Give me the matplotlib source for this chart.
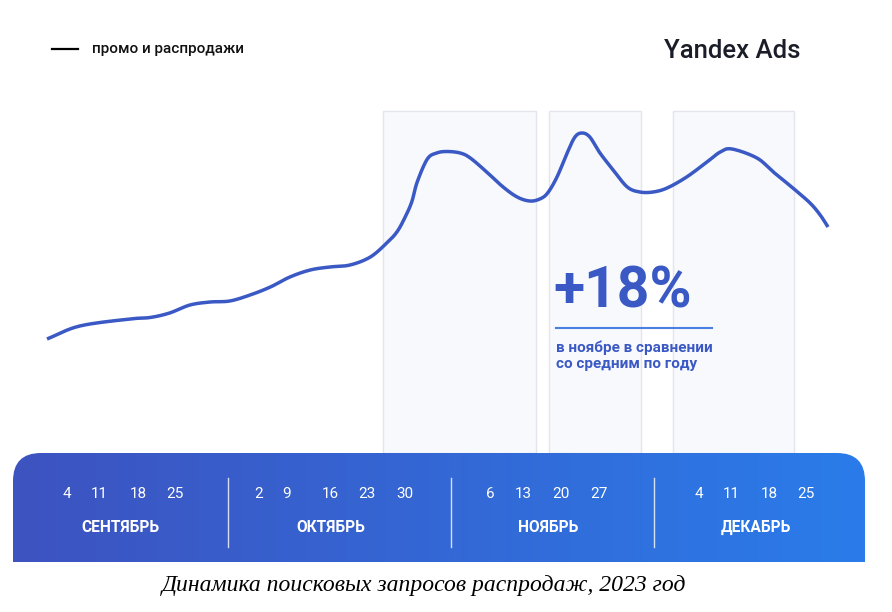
import numpy as np
import matplotlib
matplotlib.use('Agg')
import matplotlib.pyplot as plt
from matplotlib.patches import FancyBboxPatch, Rectangle
from matplotlib.transforms import blended_transform_factory

# search interest, sampled along the period (0 = start of Sep, 100 = end of Dec)
pos = [0, 4.2, 10.6, 13.2, 15.7, 18.3, 20.9, 23.4, 26.0, 28.6, 31.1, 33.7,
       36.2, 38.8, 41.4, 43.5, 44.8, 45.8, 46.7, 47.4, 48.7, 49.9, 51.2,
       52.9, 54.2, 56.3, 58.4, 60.2, 61.8, 63.1, 64.1, 65.3, 66.6, 67.6, 68.5,
       69.5, 70.8, 72.5, 74.3, 75.9, 77.6, 79.4, 81.9, 84.5, 86.2, 87.7,
       90.9, 93.0, 95.5, 97.7, 99.0, 100]
vals = [60.5, 67, 70.5, 71.25, 73.5, 77.5, 79, 79.5, 82.5, 86.5, 91.5, 95,
        96.5, 97.5, 101.5, 108.5, 114, 121, 129, 139, 150.5, 153.5, 154.25,
        153.5, 151, 144, 136.5, 131.5, 129.5, 130.5, 133.5, 141.5, 153.5, 161.5, 163.5,
        161.5, 153.5, 145, 136.5, 134, 134, 136, 141.5, 149, 154, 155.5,
        151, 144, 136, 128.5, 122.5, 116.5]

# promo periods (same scale as pos)
promo_start = [43.0, 64.3, 80.2]
promo_end = [62.6, 76.1, 95.6]

months = ['СЕНТЯБРЬ', 'ОКТЯБРЬ', 'НОЯБРЬ', 'ДЕКАБРЬ']
days = [['4', '11', '18', '25'],
        ['2', '9', '16', '23', '30'],
        ['6', '13', '20', '27'],
        ['4', '11', '18', '25']]

# layout of the date strip (pixels)
day_x = [[67, 99, 138, 175],
         [259, 287, 330, 367, 405],
         [490, 523, 561, 599],
         [699, 731, 769, 806]]
month_x = [120, 331, 548, 756]
sep_x = [228, 451, 654]

BLUE = '#3a59c4'
FONT = ['Roboto', 'DejaVu Sans']


def smooth(x, y, steps=16):
    # catmull-rom curve through the points, only for drawing
    x = np.asarray(x, float)
    y = np.asarray(y, float)
    px = np.concatenate([[2 * x[0] - x[1]], x, [2 * x[-1] - x[-2]]])
    py = np.concatenate([[2 * y[0] - y[1]], y, [2 * y[-1] - y[-2]]])
    t = np.linspace(0, 1, steps, endpoint=False)[:, None]
    outx, outy = [], []
    for i in range(1, len(px) - 2):
        for p, out in ((px, outx), (py, outy)):
            p0, p1, p2, p3 = p[i - 1], p[i], p[i + 1], p[i + 2]
            c = 0.5 * ((2 * p1) + (-p0 + p2) * t + (2 * p0 - 5 * p1 + 4 * p2 - p3) * t ** 2
                       + (-p0 + 3 * p1 - 3 * p2 + p3) * t ** 3)
            out.extend(c.ravel())
    outx.append(x[-1])
    outy.append(y[-1])
    return outx, outy


fig = plt.figure(figsize=(8.92, 6.12), dpi=100)
ax = fig.add_axes([0, 0, 1, 1])
ax.set_xlim(0, 892)
ax.set_ylim(612, 0)
ax.axis('off')

# line axes
W, H = 892, 612
x0, x1 = 47, 828
ytop, ybot = 100, 360
lax = fig.add_axes([x0 / W, (H - ybot) / H, (x1 - x0) / W, (ybot - ytop) / H])
lax.set_xlim(0, 100)
lax.set_ylim(50, 180)
lax.axis('off')
lax.patch.set_alpha(0)
lax.set_zorder(5)

sx_, sy_ = smooth(pos, vals)
lax.plot(sx_, sy_, color=BLUE, lw=2.5, clip_on=False,
         solid_capstyle='butt', solid_joinstyle='round')

# promo shading
tr = blended_transform_factory(lax.transData, ax.transData)
for s, e in zip(promo_start, promo_end):
    ax.add_patch(Rectangle((s, 111), e - s, 453 - 111, transform=tr,
                           facecolor='#f8f9fc', edgecolor='#e3e5ec', lw=1, zorder=1))

# gradient strip with rounded top corners
band = FancyBboxPatch((13, 453), 852, 140, boxstyle='round,pad=0,rounding_size=28',
                      facecolor='none', edgecolor='none', zorder=2)
ax.add_patch(band)
c0 = np.array([61, 83, 192]) / 255
c1 = np.array([42, 124, 234]) / 255
t = np.linspace(0, 1, 256)[None, :, None]
grad = c0 + (c1 - c0) * t
img = ax.imshow(grad, extent=[13, 865, 600, 453], aspect='auto', zorder=2)
img.set_clip_path(band)
ax.add_patch(Rectangle((0, 562), 892, 50, facecolor='white', edgecolor='none', zorder=3))
ax.set_xlim(0, 892)
ax.set_ylim(612, 0)

for sx in sep_x:
    ax.plot([sx, sx], [478, 547], color='white', lw=1, alpha=0.8, zorder=4)

for mi, m in enumerate(months):
    for d, dx in zip(days[mi], day_x[mi]):
        ax.text(dx, 494, d, color='white', fontsize=11, ha='center', va='center',
                family=FONT, zorder=4)
    ax.text(month_x[mi], 527, m, color='white', fontsize=11.2, fontweight='bold',
            ha='center', va='center', family=FONT, zorder=4)

# legend & logo
ax.plot([52, 78], [49, 49], color='black', lw=1.6)
ax.text(92, 49, 'промо и распродажи', fontsize=11, fontweight='medium',
        ha='left', va='center', family=FONT, color='#111111')
ax.text(664, 51, 'Yandex Ads', fontsize=18.5, fontweight='medium', ha='left', va='center',
        family=FONT, color='#1b1d29')

# callout
ax.text(553, 292, '+18%', fontsize=41, fontweight='bold', color=BLUE,
        ha='left', va='center', family=FONT, zorder=6)
ax.plot([556, 712], [328, 328], color='#4a7fe2', lw=1.5, zorder=6)
ax.text(556, 348, 'в ноябре в сравнении', fontsize=11, fontweight='bold',
        color=BLUE, ha='left', va='center', family=FONT, zorder=6)
ax.text(556, 364, 'со средним по году', fontsize=11, fontweight='bold',
        color=BLUE, ha='left', va='center', family=FONT, zorder=6)

# caption
ax.text(424, 586, 'Динамика поисковых запросов распродаж, 2023 год', fontsize=17,
        style='italic', ha='center', va='center',
        family=['Liberation Serif', 'DejaVu Serif'], color='black', zorder=6)

fig.savefig('out.png', dpi=100)
